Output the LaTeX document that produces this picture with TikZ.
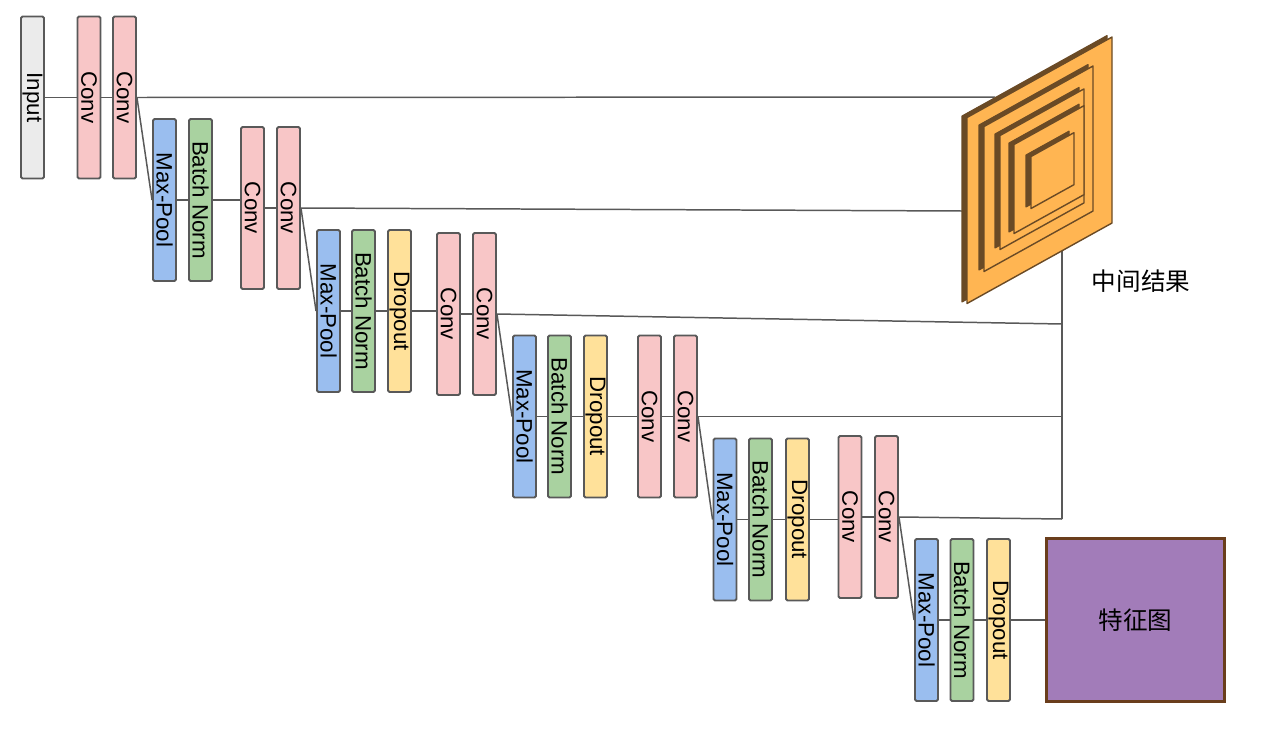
\documentclass[tikz,border=0pt]{standalone}
\usepackage{fontspec}
\setmainfont{Liberation Sans}
\newfontfamily\cjk{Noto Sans CJK SC}
\definecolor{linec}{HTML}{595959}
\definecolor{inputc}{HTML}{EBEBEB}
\definecolor{convc}{HTML}{F8C6C7}
\definecolor{poolc}{HTML}{9ABEEF}
\definecolor{bnc}{HTML}{A9D2A0}
\definecolor{dropc}{HTML}{FFE19A}
\definecolor{facec}{HTML}{FFB552}
\definecolor{darkc}{HTML}{6A4A25}
\definecolor{featc}{HTML}{A27CB9}
\definecolor{featb}{HTML}{6A3E1C}
\tikzset{
  layer/.style={draw=linec, line width=1.1pt, rounded corners=0.8pt, rotate=-90,
    minimum width=3.24cm, minimum height=0.46cm, inner sep=0pt,
    font=\fontsize{12.7}{14}\selectfont},
  inbox/.style={layer, fill=inputc},
  convbox/.style={layer, fill=convc},
  poolbox/.style={layer, fill=poolc},
  bnbox/.style={layer, fill=bnc},
  dropbox/.style={layer, fill=dropc},
  conn/.style={draw=linec, line width=0.85pt},
  cjklabel/.style={font=\cjk\fontsize{14}{16}\selectfont, inner sep=0pt},
  platedark/.style={fill=darkc, draw=darkc, line width=0.6pt, line join=round},
  plateface/.style={fill=facec, draw=darkc, line width=0.8pt, line join=round},
}
\newcommand{\plate}[4]{% L, T, B, R
  \pgfmathsetmacro{\pw}{#4-#1-5}
  \pgfmathsetmacro{\ps}{-0.555*\pw}
  \filldraw[platedark] (#1,#2) -- ++(\pw,\ps) -- ++(0,#3-#2) -- (#1,#3) -- cycle;
  \filldraw[plateface] (#1+5,#2+1.5) -- ++(\pw,\ps) -- ++(0,#3-#2) -- (#1+5,#3+1.5) -- cycle;
}
\begin{document}
\begin{tikzpicture}[x=0.02cm, y=-0.02cm]
\useasboundingbox (0,0) rectangle (1282,754);

% row 1
\node[inbox]   (in)  at (32.5,97.5) {Input};
\node[convbox] (c11) at (89,97.5)   {Conv};
\node[convbox] (c12) at (124.5,97.5){Conv};
% row 2
\node[poolbox] (mp2) at (164.5,200) {Max-Pool};
\node[bnbox]   (bn2) at (200.5,200) {Batch Norm};
\node[convbox] (c21) at (252.5,208) {Conv};
\node[convbox] (c22) at (288.5,208) {Conv};
% row 3
\node[poolbox] (mp3) at (328.5,311) {Max-Pool};
\node[bnbox]   (bn3) at (363.5,311) {Batch Norm};
\node[dropbox] (do3) at (399.5,311) {Dropout};
\node[convbox] (c31) at (448.5,314) {Conv};
\node[convbox] (c32) at (484.5,314) {Conv};
% row 4
\node[poolbox] (mp4) at (524.5,416.5) {Max-Pool};
\node[bnbox]   (bn4) at (559.5,416.5) {Batch Norm};
\node[dropbox] (do4) at (595.5,416.5) {Dropout};
\node[convbox] (c41) at (649.5,416.5) {Conv};
\node[convbox] (c42) at (685.5,416.5) {Conv};
% row 5
\node[poolbox] (mp5) at (725,519.5) {Max-Pool};
\node[bnbox]   (bn5) at (760.5,519.5) {Batch Norm};
\node[dropbox] (do5) at (797.5,519.5) {Dropout};
\node[convbox] (c51) at (850,517) {Conv};
\node[convbox] (c52) at (886.5,517) {Conv};
% row 6
\node[poolbox] (mp6) at (926.5,620) {Max-Pool};
\node[bnbox]   (bn6) at (962,620) {Batch Norm};
\node[dropbox] (do6) at (998.5,620) {Dropout};
\node[draw=featb, fill=featc, line width=2pt, minimum width=3.56cm, minimum height=3.26cm,
      inner sep=0pt, font=\cjk\fontsize{14}{16}\selectfont] (feat) at (1135.5,620) {特征图};

% junction coordinates
\coordinate (t1) at (995,97);
\coordinate (t2) at (962,211);
\coordinate (jtop) at (1062,250);
\coordinate (j3) at (1062,324);
\coordinate (j4) at (1062,416.5);
\coordinate (j5) at (1062,519);

% connectors
\draw[conn] (in.north) -- (c11.south);
\draw[conn] (c11.north) -- (c12.south);
\draw[conn] (c12.north) -- (t1);
\draw[conn] (c12.north) -- (mp2.south);

\draw[conn] (mp2.north) -- (bn2.south);
\draw[conn] (bn2.north) -- (bn2.north -| c21.south);
\draw[conn] (c21.north) -- (c22.south);
\draw[conn] (c22.north) -- (t2);
\draw[conn] (c22.north) -- (mp3.south);

\draw[conn] (mp3.north) -- (bn3.south);
\draw[conn] (bn3.north) -- (do3.south);
\draw[conn] (do3.north) -- (do3.north -| c31.south);
\draw[conn] (c31.north) -- (c32.south);
\draw[conn] (c32.north) -- (j3);
\draw[conn] (c32.north) -- (mp4.south);

\draw[conn] (mp4.north) -- (bn4.south);
\draw[conn] (bn4.north) -- (do4.south);
\draw[conn] (do4.north) -- (c41.south);
\draw[conn] (c41.north) -- (c42.south);
\draw[conn] (c42.north) -- (j4);
\draw[conn] (c42.north) -- (mp5.south);

\draw[conn] (mp5.north) -- (bn5.south);
\draw[conn] (bn5.north) -- (do5.south);
\draw[conn] (do5.north) -- (do5.north -| c51.south);
\draw[conn] (c51.north) -- (c52.south);
\draw[conn] (c52.north) -- (j5);
\draw[conn] (c52.north) -- (mp6.south);

\draw[conn] (mp6.north) -- (bn6.south);
\draw[conn] (bn6.north) -- (do6.south);
\draw[conn] (do6.north) -- (feat.west);

\draw[conn] (jtop) -- (j5);

% 3D intermediate-result stack
\plate{962}{116}{302}{1112}
\plate{979}{125}{270}{1093}
\plate{995}{134}{248}{1084}
\plate{1009}{143}{232}{1084}
\plate{1026}{155}{207}{1074}

\node[cjklabel] (mid) at (1141,281) {中间结果};
\end{tikzpicture}
\end{document}
